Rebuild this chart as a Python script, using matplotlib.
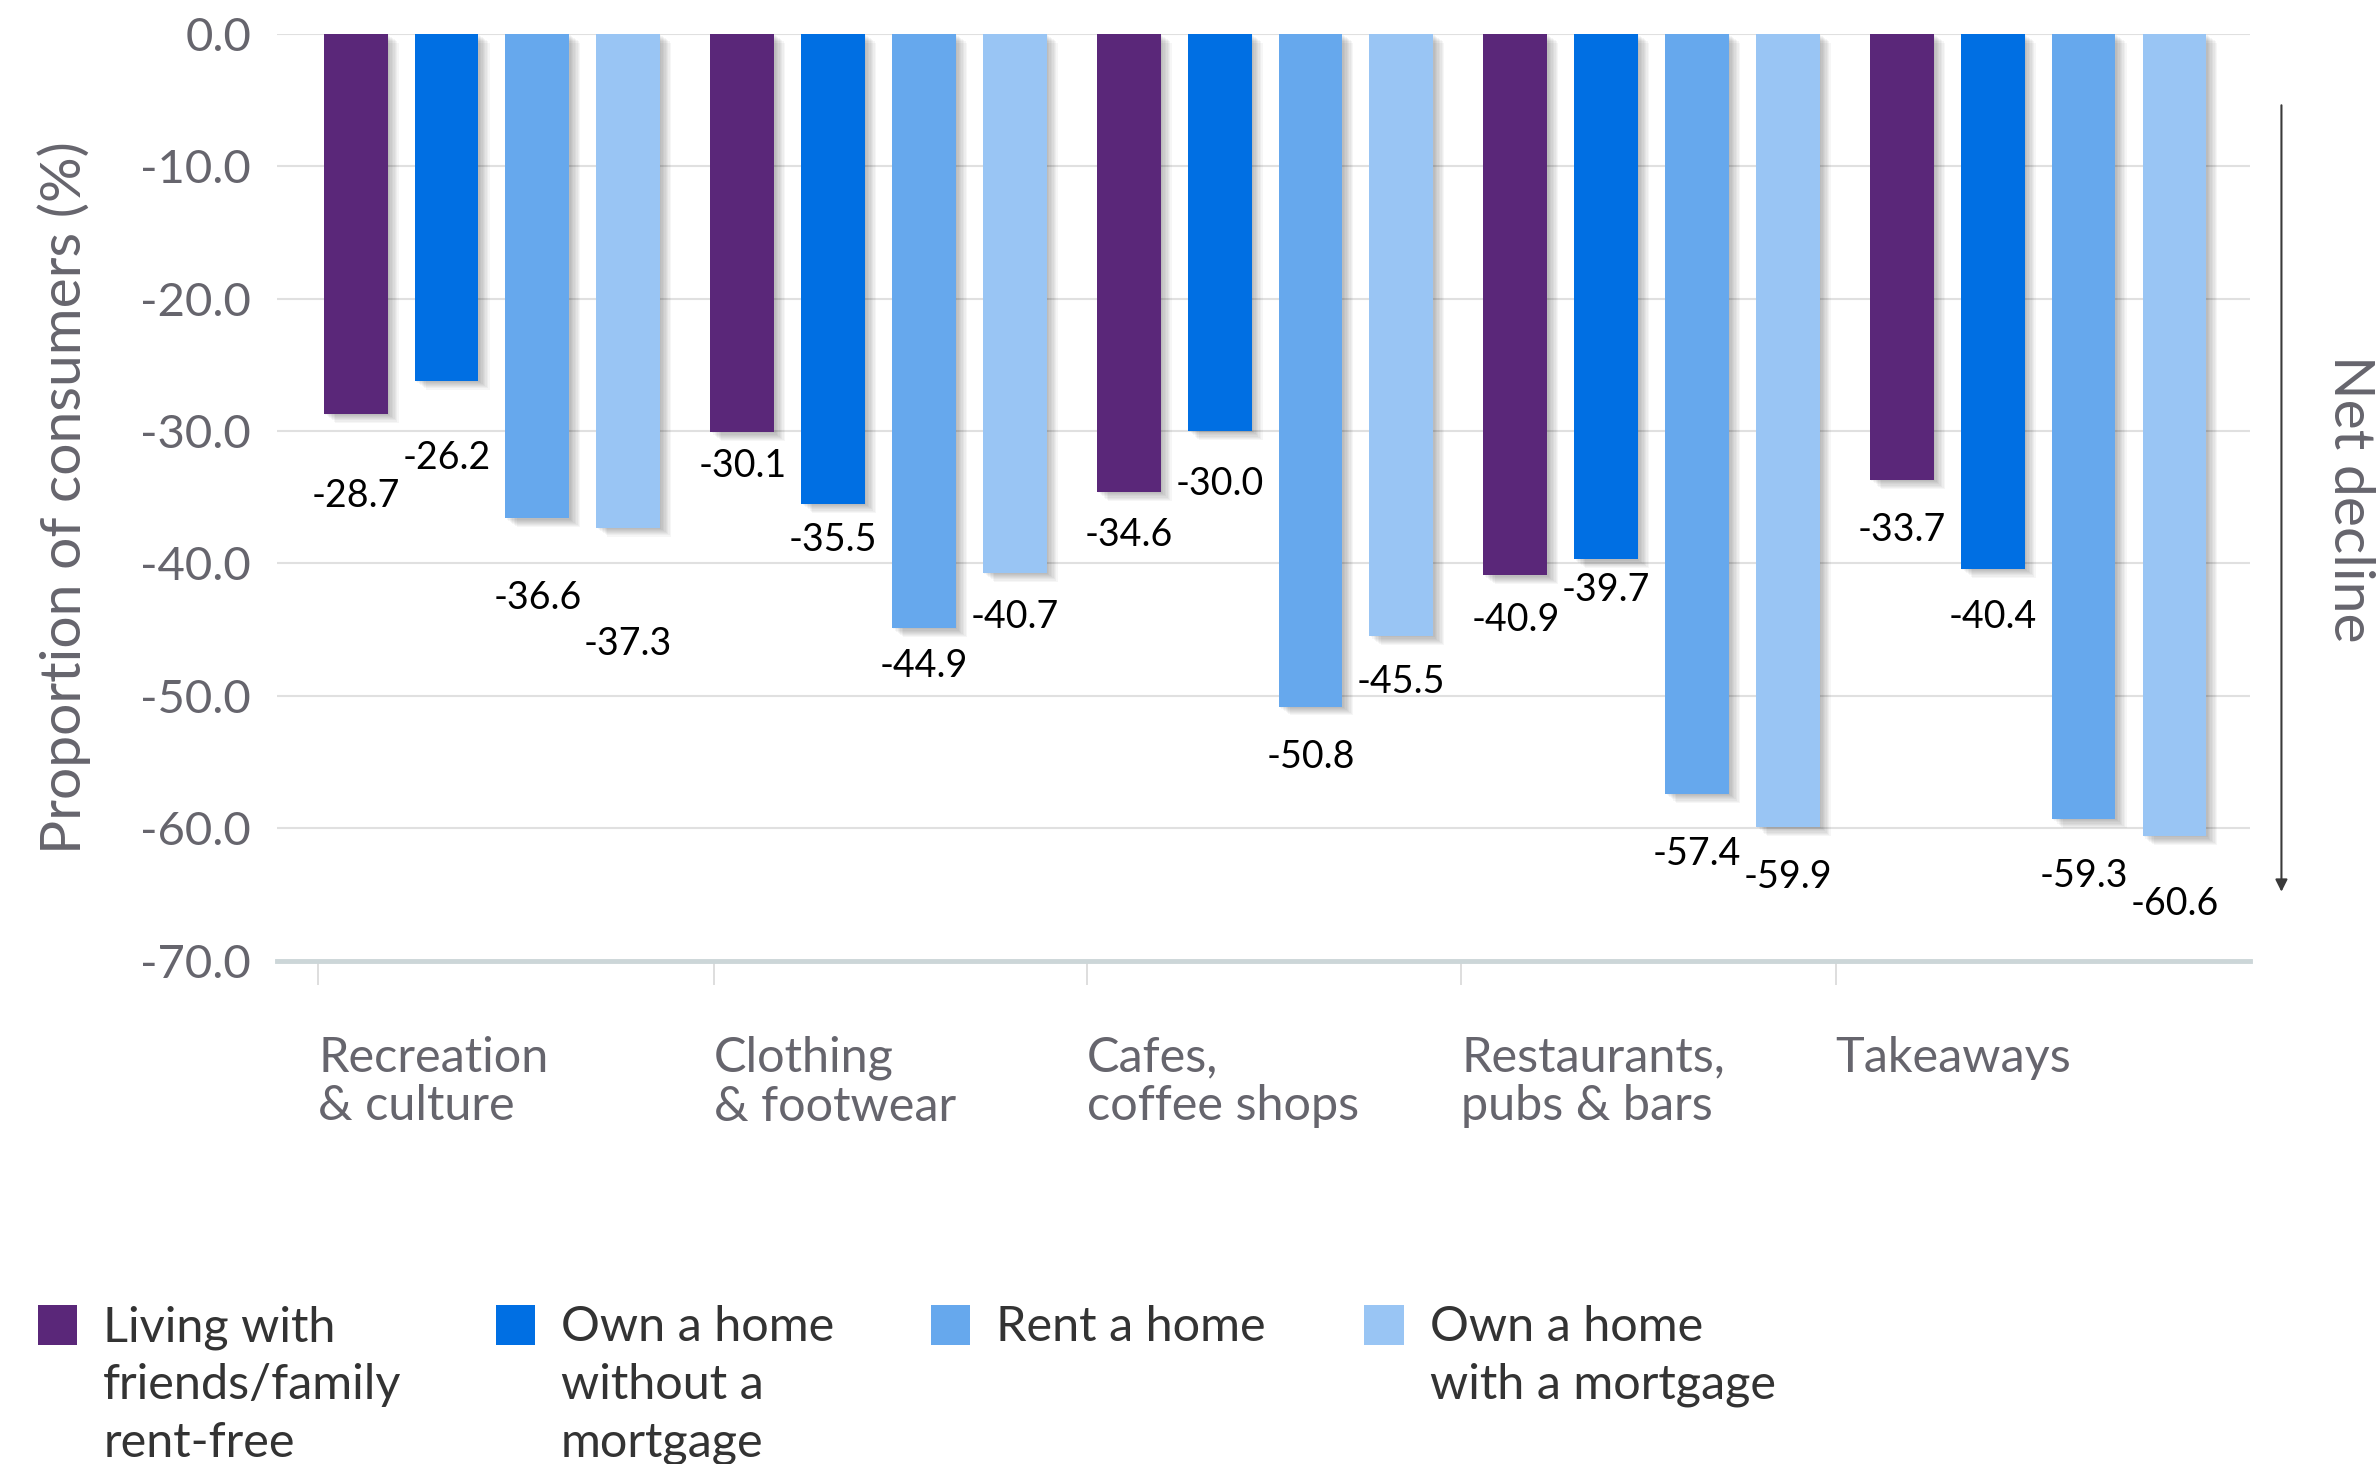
import matplotlib
matplotlib.use("Agg")
import matplotlib.pyplot as plt
import matplotlib.patheffects as pe
from matplotlib.patches import Rectangle
import numpy as np

plt.rcParams['font.family'] = ['Lato', 'DejaVu Sans']
plt.rcParams['axes.unicode_minus'] = False

categories = ['Recreation\n& culture', 'Clothing\n& footwear', 'Cafes,\ncoffee shops',
              'Restaurants,\npubs & bars', 'Takeaways']
series = ['Living with\nfriends/family\nrent-free', 'Own a home\nwithout a\nmortgage',
          'Rent a home', 'Own a home\nwith a mortgage']
living = [-28.7, -30.1, -34.6, -40.9, -33.7]
own_outright = [-26.2, -35.5, -30.0, -39.7, -40.4]
rent = [-36.6, -44.9, -50.8, -57.4, -59.3]
mortgage = [-37.3, -40.7, -45.5, -59.9, -60.6]
colors = ['#5a2779', '#006fe3', '#66a8ed', '#99c5f4']
yticks = [0, -10, -20, -30, -40, -50, -60, -70]

# label drop below bar end, in points (per group, per series)
label_drop = [[59, 56, 57, 84], [24, 26, 27, 32], [31, 38, 36, 33],
              [32, 22, 43, 36], [36, 35, 41, 49]]
# category tick positions (as drawn in the original)
cat_tick_pos = [-0.449, 0.575, 1.539, 2.508, 3.476]

fig = plt.figure(figsize=(23.77, 14.64), dpi=100)
ax = fig.add_axes([0.1167, 0.3437, 0.8297, 0.6333])

x = np.arange(len(categories))
step = 0.235
width = 0.165
shadow = [pe.SimplePatchShadow(offset=(d, -d * 0.8), shadow_rgbFace='black', alpha=0.035)
          for d in range(1, 9)] + [pe.Normal()]

for i, (vals, c) in enumerate(zip([living, own_outright, rent, mortgage], colors)):
    xs = x + (i - 1.5) * step
    bars = ax.bar(xs, vals, width=width, color=c, zorder=3)
    for b in bars:
        b.set_path_effects(shadow)
    for j, v in enumerate(vals):
        ax.annotate(f'{v:.1f}', (xs[j], v), xytext=(0, -label_drop[j][i]),
                    textcoords='offset points', ha='center', va='center',
                    fontsize=27, color='black', zorder=5)

ax.set_xlim(-0.555, 4.547)
ax.set_ylim(-70, 0)
ax.set_yticks(yticks)
ax.set_yticklabels([f'{t:.1f}' for t in yticks])
ax.tick_params(axis='y', length=0, pad=19, labelsize=34, labelcolor='#66656d')
ax.grid(axis='y', color='#e0e0e0', linewidth=1.5, zorder=0)
ax.set_axisbelow(True)

ax.set_xticks(cat_tick_pos)
ax.set_xticklabels(categories, ha='left', va='top', fontsize=35, color='#66656d',
                   linespacing=1.12)
ax.tick_params(axis='x', length=17, width=1.2, color='#d8d8d8', pad=37)

for s in ['top', 'right', 'left']:
    ax.spines[s].set_visible(False)
ax.spines['bottom'].set_color('#ccd6d8')
ax.spines['bottom'].set_linewidth(3.5)
ax.spines['bottom'].set_zorder(4)

fig.text(0.027, 0.66, 'Proportion of consumers (%)', rotation=90, ha='center', va='center',
         fontsize=41, color='#66656d')

# net decline arrow
ax.annotate('', xy=(0.9598, 0.389), xytext=(0.9598, 0.93), xycoords='figure fraction',
            textcoords='figure fraction',
            arrowprops=dict(arrowstyle='-|>', color='#3a3a3a', lw=1.5, mutation_scale=18))
fig.text(0.9885, 0.659, 'Net decline', rotation=-90, ha='center', va='center',
         fontsize=41, color='#66656d')

# legend
leg_x = [0.016, 0.2085, 0.3916, 0.574]
for lx, lab, c in zip(leg_x, series, colors):
    fig.patches.append(Rectangle((lx, 0.0815), 0.0166, 0.027, transform=fig.transFigure,
                                 facecolor=c, edgecolor='none'))
    fig.text(lx + 0.0274, 0.1085, lab, ha='left', va='top', fontsize=35,
             color='#333333', linespacing=1.38)

fig.savefig('out.png', dpi=100)
